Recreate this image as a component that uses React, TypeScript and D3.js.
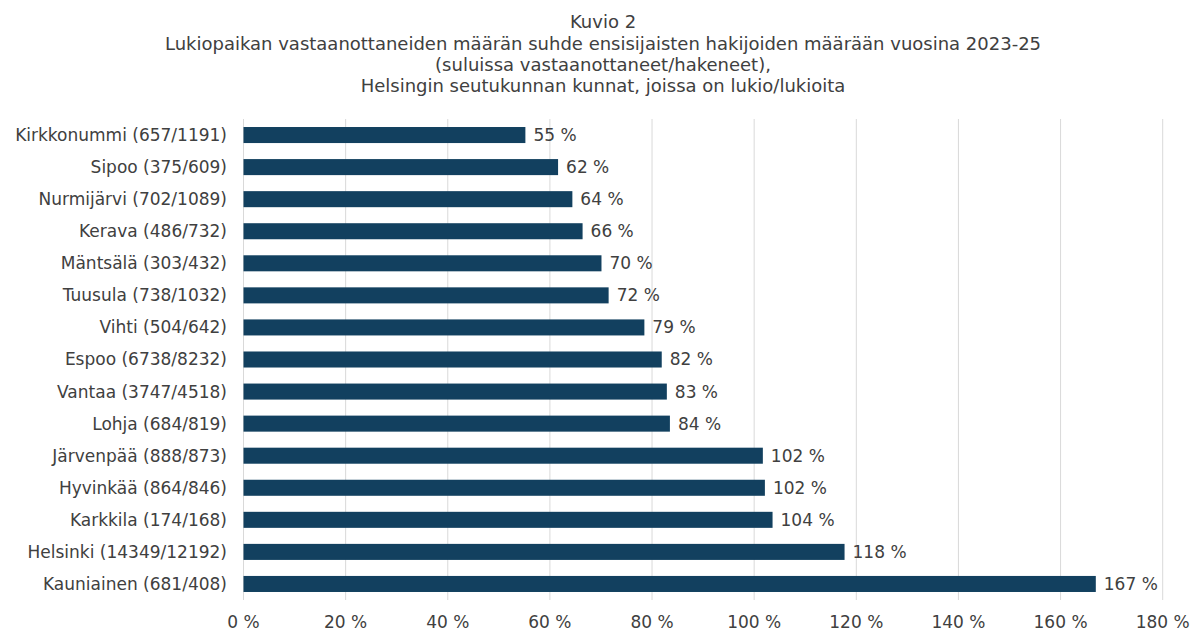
import * as d3 from "d3";
import { useEffect, useRef } from "react";

const categories = [
  "Kirkkonummi (657/1191)",
  "Sipoo (375/609)",
  "Nurmijärvi (702/1089)",
  "Kerava (486/732)",
  "Mäntsälä (303/432)",
  "Tuusula (738/1032)",
  "Vihti (504/642)",
  "Espoo (6738/8232)",
  "Vantaa (3747/4518)",
  "Lohja (684/819)",
  "Järvenpää (888/873)",
  "Hyvinkää (864/846)",
  "Karkkila (174/168)",
  "Helsinki (14349/12192)",
  "Kauniainen (681/408)",
];

// ratio in percent
const values = [55.2, 61.6, 64.4, 66.4, 70.1, 71.5, 78.5, 81.9, 82.9, 83.5, 101.7, 102.1, 103.6, 117.7, 166.9];

const xTicks = [0, 20, 40, 60, 80, 100, 120, 140, 160, 180];

const titleLines = [
  "Kuvio 2",
  "Lukiopaikan vastaanottaneiden määrän suhde ensisijaisten hakijoiden määrään vuosina 2023-25",
  "(suluissa vastaanottaneet/hakeneet),",
  "Helsingin seutukunnan kunnat, joissa on lukio/lukioita",
];

const W = 1194;
const H = 631;
const FONT = "'DejaVu Sans', sans-serif";
const TEXT = "#404040";
const BAR = "#12405f";

export default function App() {
  const ref = useRef<SVGSVGElement>(null);

  useEffect(() => {
    if (!ref.current) return;
    const svg = d3.select(ref.current);
    svg.selectAll("*").remove();

    const x = d3.scaleLinear().domain([0, 180]).range([243.5, 1162.7]);
    const y = d3.scaleBand<string>().domain(categories).range([119, 600]).paddingInner(0.5).paddingOuter(0.25);

    // title
    svg
      .append("g")
      .selectAll("text")
      .data(titleLines)
      .enter()
      .append("text")
      .attr("x", 603)
      .attr("y", (d, i) => [28, 50, 71, 92][i])
      .attr("text-anchor", "middle")
      .attr("font-family", FONT)
      .attr("font-size", "18px")
      .attr("fill", TEXT)
      .text((d) => d);

    // grid
    svg
      .append("g")
      .selectAll("line")
      .data(xTicks)
      .enter()
      .append("line")
      .attr("x1", (d) => x(d))
      .attr("x2", (d) => x(d))
      .attr("y1", 119)
      .attr("y2", 600)
      .attr("stroke", "#d9d9d9")
      .attr("stroke-width", 1);

    // x tick labels
    svg
      .append("g")
      .selectAll("text")
      .data(xTicks)
      .enter()
      .append("text")
      .attr("x", (d) => x(d))
      .attr("y", 628)
      .attr("text-anchor", "middle")
      .attr("font-family", FONT)
      .attr("font-size", "17px")
      .attr("fill", TEXT)
      .text((d) => `${d} %`);

    // bars
    svg
      .append("g")
      .selectAll("rect")
      .data(values)
      .enter()
      .append("rect")
      .attr("x", x(0))
      .attr("y", (d, i) => y(categories[i])!)
      .attr("width", (d) => x(d) - x(0))
      .attr("height", y.bandwidth())
      .attr("fill", BAR);

    // value labels
    svg
      .append("g")
      .selectAll("text")
      .data(values)
      .enter()
      .append("text")
      .attr("x", (d) => x(d) + 8)
      .attr("y", (d, i) => y(categories[i])! + y.bandwidth() / 2)
      .attr("dy", "0.35em")
      .attr("font-family", FONT)
      .attr("font-size", "17px")
      .attr("fill", TEXT)
      .text((d) => `${Math.round(d)} %`);

    // category labels
    svg
      .append("g")
      .selectAll("text")
      .data(categories)
      .enter()
      .append("text")
      .attr("x", 227)
      .attr("y", (d) => y(d)! + y.bandwidth() / 2)
      .attr("dy", "0.35em")
      .attr("text-anchor", "end")
      .attr("font-family", FONT)
      .attr("font-size", "17px")
      .attr("fill", TEXT)
      .text((d) => d);
  }, []);

  return (
    <svg
      ref={ref}
      width={W}
      height={H}
      style={{ position: "absolute", left: 0, top: 0, background: "#fff" }}
    />
  );
}
